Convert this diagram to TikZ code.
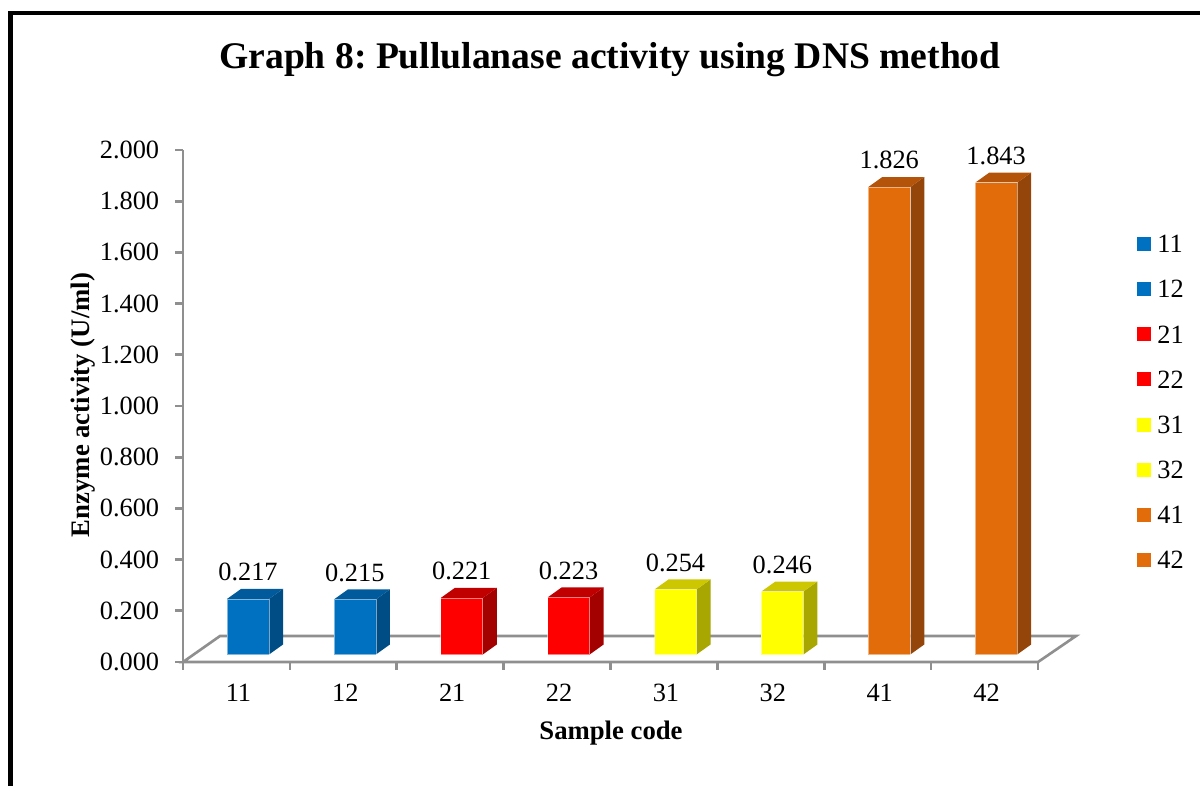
\documentclass[tikz,border=0pt]{standalone}
\usepackage{fontspec}
\setmainfont{Liberation Serif}
\usetikzlibrary{positioning}
\frenchspacing

\definecolor{axisgray}{HTML}{8F8F8F}
\definecolor{blueF}{HTML}{0070C0}
\definecolor{blueT}{HTML}{005A9C}
\definecolor{blueS}{HTML}{004C85}
\definecolor{redF}{HTML}{FF0000}
\definecolor{redT}{HTML}{C00000}
\definecolor{redS}{HTML}{A30000}
\definecolor{yellowF}{HTML}{FFFF00}
\definecolor{yellowT}{HTML}{CCC700}
\definecolor{yellowS}{HTML}{A8A600}
\definecolor{orangeF}{HTML}{E36C0A}
\definecolor{orangeT}{HTML}{B3540A}
\definecolor{orangeS}{HTML}{94460A}

\begin{document}
\begin{tikzpicture}[
	x=0.02cm,y=-0.02cm,
	font=\fontsize{15}{15}\selectfont,
	axisline/.style={draw=axisgray, line width=1.5pt, line join=miter},
	lbl/.style={inner sep=0pt},
	axistitle/.style={inner sep=0pt, font=\fontsize{15.2}{15.2}\selectfont\bfseries}
	]
\clip (0,0) rectangle (1200,785);

% outer frame
\draw[line width=2.4pt] (10.5,1000) -- (10.5,13.3) -- (1400,13.3);

% title
\node[lbl, anchor=base, font=\fontsize{21.4}{21.4}\selectfont\bfseries] (title) at (610,68)
	{Graph 8: Pullulanase activity using DNS method};

% begin axes
\draw[axisline] (183,662) -- (1038,662) -- (1076,636) -- (220,636) -- cycle;
\draw[axisline] (183,150) -- (183,662);

% value axis numbers
\foreach \k/\t in {0/0.000,1/0.200,2/0.400,3/0.600,4/0.800,5/1.000,6/1.200,7/1.400,8/1.600,9/1.800,10/2.000}
{
	\draw[axisline] (175,{662-\k*51.2}) -- (183,{662-\k*51.2});
	\node[lbl, anchor=east] (tick\k) at (159.5,{662-\k*51.2}) {\t};
}

% category ticks
\foreach \k in {0,...,8}
\draw[axisline] ({183+\k*106.875},662) -- ({183+\k*106.875},670);
% end axes

% bars
\foreach \i/\v/\code/\col in {1/0.217/11/blue, 2/0.215/12/blue, 3/0.221/21/red, 4/0.223/22/red,
	5/0.254/31/yellow, 6/0.246/32/yellow, 7/1.826/41/orange, 8/1.843/42/orange}
{
	\pgfmathsetmacro\xl{183+(\i-1)*106.875+44}
	\pgfmathsetmacro\xr{\xl+42}
	\pgfmathsetmacro\yt{654.5-\v*256}
	\pgfmathsetmacro\xc{183+(\i-0.5)*106.875+2}
	\pgfmathsetmacro\yk{244+(\i-1)*45.15}
	\fill[\col F] (\xl,654.5) rectangle (\xr,\yt);
	\fill[\col S] (\xr,654.5) -- ({\xr+14},644.5) -- ({\xr+14},{\yt-10}) -- (\xr,\yt) -- cycle;
	\fill[\col T] (\xl,\yt) -- ({\xl+14},{\yt-10}) -- ({\xr+14},{\yt-10}) -- (\xr,\yt) -- cycle;
	\draw[white, opacity=0.5, line width=0.4pt] (\xl,654.5) rectangle (\xr,\yt);
	\node[lbl, anchor=base] (val\code) at ({\xl+21},{\yt-18.3}) {\v};
	\node[lbl] (cat\code) at (\xc,693) {\code};
	% legend
	\fill[\col F] (1137,{\yk-7}) rectangle (1151,{\yk+7});
	\node[lbl, anchor=west] (key\code) at (1157,\yk) {\code};
}

% axis titles
\node[axistitle, anchor=base] (xtitle) at (611,739) {Sample code};
\node[axistitle, anchor=base, rotate=90] (ytitle) at (89.5,405) {Enzyme activity (U/ml)};

\end{tikzpicture}
\end{document}
